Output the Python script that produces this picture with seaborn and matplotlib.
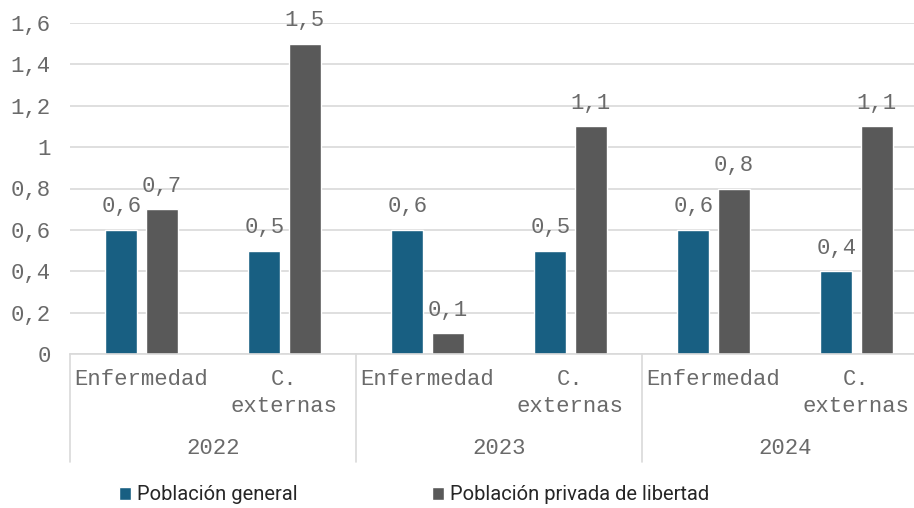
import numpy as np
import pandas as pd
import matplotlib
matplotlib.use("Agg")
import matplotlib.pyplot as plt
import matplotlib.transforms as mtransforms
import seaborn as sns

# data
years = ['2022', '2023', '2024']
causas = ['Enfermedad', 'C.\nexternas']
series = ['Población general', 'Población privada de libertad']
general = [0.6, 0.5, 0.6, 0.5, 0.6, 0.4]
privada = [0.7, 1.5, 0.1, 1.1, 0.8, 1.1]
yticks = [0, 0.2, 0.4, 0.6, 0.8, 1, 1.2, 1.4, 1.6]

keys = [y + '-' + c for y in years for c in causas]
df = pd.DataFrame({
    'grupo': keys * 2,
    'serie': [series[0]] * 6 + [series[1]] * 6,
    'valor': general + privada,
})

def coma(v):
    s = ('%g' % v).replace('.', ',')
    return s

sns.set_theme(style='white')
mono = 'Liberation Mono'
txtcol = '#6a6a6a'
colores = ['#185f82', '#595959']

fig = plt.figure(figsize=(9.14, 5.08), dpi=100)
ax = fig.add_axes([70 / 914, 154 / 508, 858 / 914, 331 / 508])

sns.barplot(data=df, x='grupo', y='valor', hue='serie', order=keys,
            hue_order=series, palette=colores, width=0.56, gap=0.2,
            saturation=1, ax=ax)

ax.set_ylim(0, 1.6)
ax.set_xlim(-0.5, 5.5)
ax.set_yticks(yticks)
ax.set_yticklabels([coma(v) for v in yticks], fontfamily=mono, fontsize=16, color=txtcol)
ax.yaxis.grid(True, color='#d9d9d9', linewidth=1.2)
ax.set_axisbelow(True)
for s in ['top', 'right', 'left']:
    ax.spines[s].set_visible(False)
ax.spines['bottom'].set_color('#d9d9d9')
ax.spines['bottom'].set_linewidth(1.2)
ax.tick_params(axis='y', length=0, pad=14)
ax.tick_params(axis='x', length=0, pad=11)
ax.set_xticks(range(6))
ax.set_xticklabels([c for y in years for c in causas], fontfamily=mono,
                   fontsize=16, color=txtcol, linespacing=1.35)
ax.set_xlabel('')
ax.set_ylabel('')

# value labels
for cont in ax.containers:
    for bar in cont:
        h = bar.get_height()
        ax.annotate(coma(h), (bar.get_x() + bar.get_width() / 2, h),
                    xytext=(0, 9), textcoords='offset points', ha='center',
                    va='bottom', fontfamily=mono, fontsize=16, color=txtcol)

# year level of the axis
trans = mtransforms.blended_transform_factory(ax.transData, ax.transAxes)
for i, y in enumerate(years):
    ax.text(2 * i + 0.5, -0.285, y, transform=trans, ha='center', va='center',
            fontfamily=mono, fontsize=16, color=txtcol)
for xs in [-0.5, 1.5, 3.5, 5.5]:
    ax.plot([xs, xs], [0, -0.326], transform=trans, color='#d9d9d9',
            linewidth=1.2, clip_on=False)

sns.move_legend(ax, loc='center', bbox_to_anchor=(0.453, 0.026),
                bbox_transform=fig.transFigure, ncol=2, frameon=False,
                title=None, fontsize=14.5, handlelength=0.6, handleheight=0.6,
                handletextpad=0.3, columnspacing=6.7)
for t in ax.get_legend().get_texts():
    t.set_fontfamily('Roboto')
    t.set_color('#262626')

fig.savefig('out.png', dpi=100)
